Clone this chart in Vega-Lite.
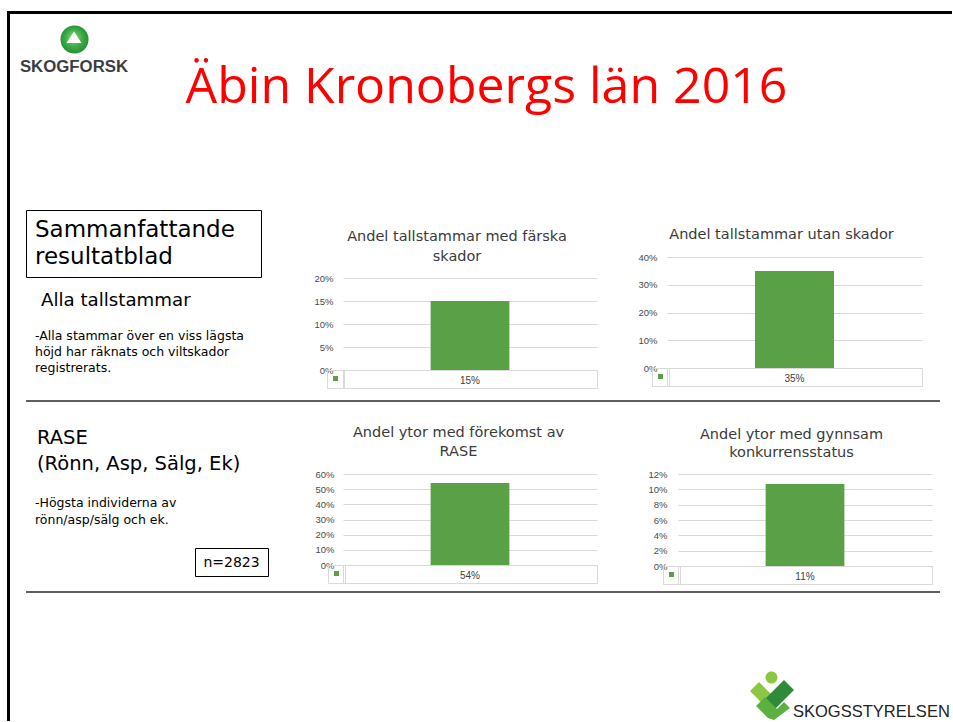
{
  "$schema": "https://vega.github.io/schema/vega-lite/v6.json",
  "padding": {"left": 7, "top": 11, "right": 0, "bottom": 0},
  "background": "#ffffff",
  "columns": 6,
  "spacing": 0,
  "bounds": "flush",
  "align": "each",
  "resolve": {"scale": {"color": "independent"}, "legend": {"color": "independent"}},
  "config": {
    "view": {"stroke": null},
    "title": {"font": "DejaVu Sans", "fontSize": 14.5, "fontWeight": "normal", "color": "#3a3a3a", "anchor": "middle", "frame": "group", "lineHeight": 20},
    "axis": {"labelFont": "Liberation Sans", "labelFontSize": 9.5, "labelColor": "#4a4a4a", "gridColor": "#d9d9d9", "domain": false, "ticks": false, "tickSize": 0},
    "legend": {"labelFont": "DejaVu Sans"},
    "text": {"font": "DejaVu Sans"}
  },
  "concat": [
    {"width": 3, "height": 3, "view": {"fill": "#000000", "stroke": null}, "data": {"values": []}, "mark": "point", "encoding": {}},
    {"width": 16, "height": 3, "view": {"fill": "#000000", "stroke": null}, "data": {"values": []}, "mark": "point", "encoding": {}},
    {"width": 317, "height": 3, "view": {"fill": "#000000", "stroke": null}, "data": {"values": []}, "mark": "point", "encoding": {}},
    {"width": 254, "height": 3, "view": {"fill": "#000000", "stroke": null}, "data": {"values": []}, "mark": "point", "encoding": {}},
    {"width": 70, "height": 3, "view": {"fill": "#000000", "stroke": null}, "data": {"values": []}, "mark": "point", "encoding": {}},
    {"width": 285, "height": 3, "view": {"fill": "#000000", "stroke": null}, "data": {"values": []}, "mark": "point", "encoding": {}},

    {"width": 3, "height": 196, "view": {"fill": "#000000", "stroke": null}, "data": {"values": []}, "mark": "point", "encoding": {}},
    {"width": 1, "height": 1, "data": {"values": []}, "mark": "point", "encoding": {}},
    {
      "width": 97, "height": 51,
      "data": {"values": [{"logotyp": "SKOGFORSK"}]},
      "layer": [
        {"mark": {"type": "point", "shape": "circle", "size": 784, "filled": true, "opacity": 1, "strokeWidth": 0, "color": {"gradient": "radial", "x1": 0.45, "y1": 0.4, "r1": 0, "x2": 0.5, "y2": 0.5, "r2": 0.55, "stops": [{"offset": 0, "color": "#8fd47e"}, {"offset": 0.55, "color": "#3fae47"}, {"offset": 1, "color": "#1f8a33"}]}}, "encoding": {}},
        {"mark": {"type": "point", "shape": "M-0.5,-8L7,3.5L-8,3.5Z", "size": 4, "filled": true, "color": "#ffffff", "opacity": 1, "strokeWidth": 0}, "encoding": {}},
        {"mark": {"type": "text", "align": "center", "baseline": "alphabetic", "dx": -0.5, "dy": 32, "font": "Liberation Sans", "fontSize": 16.8, "fontWeight": "bold", "color": "#3d3d3d"}, "encoding": {"text": {"field": "logotyp", "type": "nominal"}}}
      ]
    },
    {
      "width": 2, "height": 2,
      "data": {"values": [{"rubrik": "Äbin Kronobergs län 2016"}]},
      "mark": {"type": "text", "align": "center", "baseline": "alphabetic", "dx": 142.5, "dy": 88, "font": "Open Sans", "fontSize": 50, "color": "#ff0000"},
      "encoding": {"text": {"field": "rubrik", "type": "nominal"}}
    },
    {"width": 1, "height": 1, "data": {"values": []}, "mark": "point", "encoding": {}},
    {"width": 1, "height": 1, "data": {"values": []}, "mark": "point", "encoding": {}},

    {"width": 3, "height": 68, "view": {"fill": "#000000", "stroke": null}, "data": {"values": []}, "mark": "point", "encoding": {}},
    {"width": 1, "height": 1, "data": {"values": []}, "mark": "point", "encoding": {}},
    {
      "width": 235, "height": 67,
      "view": {"stroke": "#000000", "strokeWidth": 1},
      "data": {"values": [{"rubrik": "Sammanfattande\nresultatblad"}]},
      "mark": {"type": "text", "align": "left", "baseline": "alphabetic", "dx": -108.5, "dy": -6.5, "lineBreak": "\n", "lineHeight": 27, "font": "DejaVu Sans", "fontSize": 23, "color": "#000000"},
      "encoding": {"text": {"field": "rubrik", "type": "nominal"}}
    },
    {"width": 1, "height": 1, "data": {"values": []}, "mark": "point", "encoding": {}},
    {"width": 1, "height": 1, "data": {"values": []}, "mark": "point", "encoding": {}},
    {"width": 1, "height": 1, "data": {"values": []}, "mark": "point", "encoding": {}},

    {"width": 3, "height": 122, "view": {"fill": "#000000", "stroke": null}, "data": {"values": []}, "mark": "point", "encoding": {}},
    {"width": 1, "height": 1, "data": {"values": []}, "mark": "point", "encoding": {}},
    {
      "width": 2, "height": 2,
      "data": {"values": [{"rubrik": "Alla tallstammar", "beskrivning": "-Alla stammar över en viss lägsta\nhöjd har räknats och viltskador\nregistrerats."}]},
      "layer": [
        {"mark": {"type": "text", "align": "left", "baseline": "alphabetic", "dx": 14, "dy": 27, "font": "DejaVu Sans", "fontSize": 18.2, "color": "#000000"}, "encoding": {"text": {"field": "rubrik", "type": "nominal"}}},
        {"mark": {"type": "text", "align": "left", "baseline": "alphabetic", "dx": 8, "dy": 61, "lineBreak": "\n", "lineHeight": 16, "font": "DejaVu Sans", "fontSize": 12.5, "color": "#000000"}, "encoding": {"text": {"field": "beskrivning", "type": "nominal"}}}
      ]
    },
    {
      "width": 254, "height": 92,
      "title": {"text": ["Andel tallstammar med färska", "skador"], "dx": -13, "offset": 9},
      "data": {"values": [{"diagram": "Andel tallstammar med färska skador", "serie": "Serie 1", "andel": 0.15}]},
      "layer": [
        {
          "mark": {"type": "bar", "width": {"band": 0.31}},
          "encoding": {
            "x": {"field": "diagram", "type": "nominal", "scale": {"paddingInner": 0, "paddingOuter": 0}, "axis": {"orient": "bottom", "labels": false, "title": null, "domain": true, "domainColor": "#d9d9d9", "ticks": true, "tickBand": "extent", "tickSize": 18, "tickColor": "#d9d9d9", "grid": false}},
            "y": {"field": "andel", "type": "quantitative", "scale": {"domain": [0, 0.2], "nice": false}, "axis": {"values": [0, 0.05, 0.1, 0.15, 0.2], "format": ".0%", "title": null, "labelPadding": 10}},
            "color": {"field": "serie", "type": "nominal", "scale": {"range": ["#5aa046"]}, "legend": {"orient": "none", "legendX": -16, "legendY": 92, "title": null, "labelExpr": "''", "symbolType": "square", "symbolSize": 25, "symbolStrokeWidth": 0, "strokeColor": "#d9d9d9", "padding": 6, "labelFontSize": 5, "labelOffset": 0}}
          }
        },
        {
          "mark": {"type": "text", "dy": 11, "font": "Liberation Sans", "fontSize": 10, "color": "#404040"},
          "encoding": {
            "x": {"field": "diagram", "type": "nominal", "axis": {"orient": "bottom", "offset": 18, "labels": false, "ticks": false, "domain": true, "domainColor": "#d9d9d9", "title": null, "grid": false}},
            "y": {"datum": 0, "type": "quantitative", "scale": {"domain": [0, 0.2], "nice": false}, "axis": {"values": [0, 0.05, 0.1, 0.15, 0.2], "format": ".0%", "title": null, "labelPadding": 10}},
            "text": {"field": "andel", "type": "quantitative", "format": ".0%"}
          }
        }
      ],
      "resolve": {"axis": {"x": "independent"}}
    },
    {"width": 1, "height": 1, "data": {"values": []}, "mark": "point", "encoding": {}},
    {
      "width": 255, "height": 90,
      "title": {"text": "Andel tallstammar utan skador", "dx": -13, "offset": 10},
      "data": {"values": [{"diagram": "Andel tallstammar utan skador", "serie": "Serie 1", "andel": 0.35}]},
      "layer": [
        {
          "mark": {"type": "bar", "width": {"band": 0.31}},
          "encoding": {
            "x": {"field": "diagram", "type": "nominal", "scale": {"paddingInner": 0, "paddingOuter": 0}, "axis": {"orient": "bottom", "labels": false, "title": null, "domain": true, "domainColor": "#d9d9d9", "ticks": true, "tickBand": "extent", "tickSize": 18, "tickColor": "#d9d9d9", "grid": false}},
            "y": {"field": "andel", "type": "quantitative", "scale": {"domain": [0, 0.4], "range": [90, -21], "nice": false}, "axis": {"values": [0, 0.1, 0.2, 0.3, 0.4], "format": ".0%", "title": null, "labelPadding": 10}},
            "color": {"field": "serie", "type": "nominal", "scale": {"range": ["#5aa046"]}, "legend": {"orient": "none", "legendX": -15, "legendY": 90, "title": null, "labelExpr": "''", "symbolType": "square", "symbolSize": 25, "symbolStrokeWidth": 0, "strokeColor": "#d9d9d9", "padding": 6, "labelFontSize": 5, "labelOffset": 0}}
          }
        },
        {
          "mark": {"type": "text", "dy": 11, "font": "Liberation Sans", "fontSize": 10, "color": "#404040"},
          "encoding": {
            "x": {"field": "diagram", "type": "nominal", "axis": {"orient": "bottom", "offset": 18, "labels": false, "ticks": false, "domain": true, "domainColor": "#d9d9d9", "title": null, "grid": false}},
            "y": {"datum": 0, "type": "quantitative", "scale": {"domain": [0, 0.4], "range": [90, -21], "nice": false}, "axis": {"values": [0, 0.1, 0.2, 0.3, 0.4], "format": ".0%", "title": null, "labelPadding": 10}},
            "text": {"field": "andel", "type": "quantitative", "format": ".0%"}
          }
        }
      ],
      "resolve": {"axis": {"x": "independent"}}
    },

    {"width": 3, "height": 2, "view": {"fill": "#000000", "stroke": null}, "data": {"values": []}, "mark": "point", "encoding": {}},
    {"width": 1, "height": 1, "data": {"values": []}, "mark": "point", "encoding": {}},
    {"width": 317, "height": 2, "view": {"fill": "#5f5f5f", "stroke": null}, "data": {"values": []}, "mark": "point", "encoding": {}},
    {"width": 254, "height": 2, "view": {"fill": "#5f5f5f", "stroke": null}, "data": {"values": []}, "mark": "point", "encoding": {}},
    {"width": 70, "height": 2, "view": {"fill": "#5f5f5f", "stroke": null}, "data": {"values": []}, "mark": "point", "encoding": {}},
    {"width": 273, "height": 2, "view": {"fill": "#5f5f5f", "stroke": null}, "data": {"values": []}, "mark": "point", "encoding": {}},

    {"width": 3, "height": 72, "view": {"fill": "#000000", "stroke": null}, "data": {"values": []}, "mark": "point", "encoding": {}},
    {"width": 1, "height": 1, "data": {"values": []}, "mark": "point", "encoding": {}},
    {
      "width": 2, "height": 2,
      "data": {"values": [{"rubrik": "RASE\n(Rönn, Asp, Sälg, Ek)", "beskrivning": "-Högsta individerna av\nrönn/asp/sälg och ek."}]},
      "layer": [
        {"mark": {"type": "text", "align": "left", "baseline": "alphabetic", "dx": 10, "dy": 41, "lineBreak": "\n", "lineHeight": 26, "font": "DejaVu Sans", "fontSize": 19.5, "color": "#000000"}, "encoding": {"text": {"field": "rubrik", "type": "nominal"}}},
        {"mark": {"type": "text", "align": "left", "baseline": "alphabetic", "dx": 8, "dy": 103.5, "lineBreak": "\n", "lineHeight": 17, "font": "DejaVu Sans", "fontSize": 12.5, "color": "#000000"}, "encoding": {"text": {"field": "beskrivning", "type": "nominal"}}}
      ]
    },
    {"width": 1, "height": 1, "data": {"values": []}, "mark": "point", "encoding": {}},
    {"width": 1, "height": 1, "data": {"values": []}, "mark": "point", "encoding": {}},
    {"width": 1, "height": 1, "data": {"values": []}, "mark": "point", "encoding": {}},

    {"width": 3, "height": 117, "view": {"fill": "#000000", "stroke": null}, "data": {"values": []}, "mark": "point", "encoding": {}},
    {"width": 1, "height": 1, "data": {"values": []}, "mark": "point", "encoding": {}},
    {
      "width": 2, "height": 2,
      "data": {"values": [{"urval": "n=2823"}]},
      "layer": [
        {"mark": {"type": "point", "shape": "M168.5,73.5H241.5V101.5H168.5Z", "size": 4, "filled": false, "stroke": "#000000", "strokeWidth": 1, "opacity": 1}, "encoding": {}},
        {"mark": {"type": "text", "align": "center", "baseline": "alphabetic", "dx": 204.5, "dy": 92, "font": "DejaVu Sans", "fontSize": 14, "color": "#000000"}, "encoding": {"text": {"field": "urval", "type": "nominal"}}}
      ]
    },
    {
      "width": 254, "height": 91,
      "title": {"text": ["Andel ytor med förekomst av", "RASE"], "dx": -11.5, "offset": 10, "lineHeight": 19},
      "data": {"values": [{"diagram": "Andel ytor med förekomst av RASE", "serie": "Serie 1", "andel": 0.54}]},
      "layer": [
        {
          "mark": {"type": "bar", "width": {"band": 0.31}},
          "encoding": {
            "x": {"field": "diagram", "type": "nominal", "scale": {"paddingInner": 0, "paddingOuter": 0}, "axis": {"orient": "bottom", "labels": false, "title": null, "domain": true, "domainColor": "#d9d9d9", "ticks": true, "tickBand": "extent", "tickSize": 18, "tickColor": "#d9d9d9", "grid": false}},
            "y": {"field": "andel", "type": "quantitative", "scale": {"domain": [0, 0.6], "nice": false}, "axis": {"values": [0, 0.1, 0.2, 0.3, 0.4, 0.5, 0.6], "format": ".0%", "title": null, "labelPadding": 9}},
            "color": {"field": "serie", "type": "nominal", "scale": {"range": ["#5aa046"]}, "legend": {"orient": "none", "legendX": -15, "legendY": 91, "title": null, "labelExpr": "''", "symbolType": "square", "symbolSize": 25, "symbolStrokeWidth": 0, "strokeColor": "#d9d9d9", "padding": 6, "labelFontSize": 5, "labelOffset": 0}}
          }
        },
        {
          "mark": {"type": "text", "dy": 11, "font": "Liberation Sans", "fontSize": 10, "color": "#404040"},
          "encoding": {
            "x": {"field": "diagram", "type": "nominal", "axis": {"orient": "bottom", "offset": 18, "labels": false, "ticks": false, "domain": true, "domainColor": "#d9d9d9", "title": null, "grid": false}},
            "y": {"datum": 0, "type": "quantitative", "scale": {"domain": [0, 0.6], "nice": false}, "axis": {"values": [0, 0.1, 0.2, 0.3, 0.4, 0.5, 0.6], "format": ".0%", "title": null, "labelPadding": 9}},
            "text": {"field": "andel", "type": "quantitative", "format": ".0%"}
          }
        }
      ],
      "resolve": {"axis": {"x": "independent"}}
    },
    {"width": 1, "height": 1, "data": {"values": []}, "mark": "point", "encoding": {}},
    {
      "width": 265, "height": 92,
      "title": {"text": ["Andel ytor med gynnsam", "konkurrensstatus"], "dx": -8, "offset": 9, "lineHeight": 18},
      "data": {"values": [{"diagram": "Andel ytor med gynnsam konkurrensstatus", "serie": "Serie 1", "andel": 0.107}]},
      "layer": [
        {
          "mark": {"type": "bar", "width": {"band": 0.31}},
          "encoding": {
            "x": {"field": "diagram", "type": "nominal", "scale": {"range": [11, 265], "paddingInner": 0, "paddingOuter": 0}, "axis": {"orient": "bottom", "labels": false, "title": null, "domain": true, "domainColor": "#d9d9d9", "ticks": true, "tickBand": "extent", "tickSize": 18, "tickColor": "#d9d9d9", "grid": false}},
            "y": {"field": "andel", "type": "quantitative", "scale": {"domain": [0, 0.12], "nice": false}, "axis": {"values": [0, 0.02, 0.04, 0.06, 0.08, 0.1, 0.12], "format": ".0%", "title": null, "labelPadding": 11, "offset": -11}},
            "color": {"field": "serie", "type": "nominal", "scale": {"range": ["#5aa046"]}, "legend": {"orient": "none", "legendX": -4, "legendY": 92, "title": null, "labelExpr": "''", "symbolType": "square", "symbolSize": 25, "symbolStrokeWidth": 0, "strokeColor": "#d9d9d9", "padding": 6, "labelFontSize": 5, "labelOffset": 0}}
          }
        },
        {
          "mark": {"type": "text", "dy": 11, "font": "Liberation Sans", "fontSize": 10, "color": "#404040"},
          "encoding": {
            "x": {"field": "diagram", "type": "nominal", "axis": {"orient": "bottom", "offset": 18, "labels": false, "ticks": false, "domain": true, "domainColor": "#d9d9d9", "title": null, "grid": false}},
            "y": {"datum": 0, "type": "quantitative", "scale": {"domain": [0, 0.12], "nice": false}, "axis": {"values": [0, 0.02, 0.04, 0.06, 0.08, 0.1, 0.12], "format": ".0%", "title": null, "labelPadding": 11, "offset": -11}},
            "text": {"field": "andel", "type": "quantitative", "format": ".0%"}
          }
        }
      ],
      "resolve": {"axis": {"x": "independent"}}
    },

    {"width": 3, "height": 2, "view": {"fill": "#000000", "stroke": null}, "data": {"values": []}, "mark": "point", "encoding": {}},
    {"width": 1, "height": 1, "data": {"values": []}, "mark": "point", "encoding": {}},
    {"width": 317, "height": 2, "view": {"fill": "#5f5f5f", "stroke": null}, "data": {"values": []}, "mark": "point", "encoding": {}},
    {"width": 254, "height": 2, "view": {"fill": "#5f5f5f", "stroke": null}, "data": {"values": []}, "mark": "point", "encoding": {}},
    {"width": 70, "height": 2, "view": {"fill": "#5f5f5f", "stroke": null}, "data": {"values": []}, "mark": "point", "encoding": {}},
    {"width": 273, "height": 2, "view": {"fill": "#5f5f5f", "stroke": null}, "data": {"values": []}, "mark": "point", "encoding": {}},

    {"width": 3, "height": 128, "view": {"fill": "#000000", "stroke": null}, "data": {"values": []}, "mark": "point", "encoding": {}},
    {"width": 1, "height": 1, "data": {"values": []}, "mark": "point", "encoding": {}},
    {"width": 1, "height": 1, "data": {"values": []}, "mark": "point", "encoding": {}},
    {"width": 1, "height": 1, "data": {"values": []}, "mark": "point", "encoding": {}},
    {"width": 1, "height": 1, "data": {"values": []}, "mark": "point", "encoding": {}},
    {
      "width": 2, "height": 2,
      "data": {"values": [{"logotyp": "SKOGSSTYRELSEN"}]},
      "layer": [
        {"mark": {"type": "point", "shape": "M97.5,83.5a6,6 0 1,0 12,0a6,6 0 1,0 -12,0ZM82,97L91,88L103,100L94,109Z", "size": 4, "filled": true, "color": "#8dc641", "opacity": 1, "strokeWidth": 0}, "encoding": {}},
        {"mark": {"type": "point", "shape": "M96,106L116,86L126,96L106,116Z", "size": 4, "filled": true, "color": "#2f8a3a", "opacity": 1, "strokeWidth": 0}, "encoding": {}},
        {"mark": {"type": "point", "shape": "M88,112L97,103L109,115L100,124ZM100,124L116,108L122,114L106,126Z", "size": 4, "filled": true, "color": "#5cb040", "opacity": 1, "strokeWidth": 0}, "encoding": {}},
        {"mark": {"type": "text", "align": "left", "baseline": "alphabetic", "dx": 125, "dy": 123, "font": "Liberation Sans", "fontSize": 16.5, "color": "#222222"}, "encoding": {"text": {"field": "logotyp", "type": "nominal"}}}
      ]
    }
  ]
}
